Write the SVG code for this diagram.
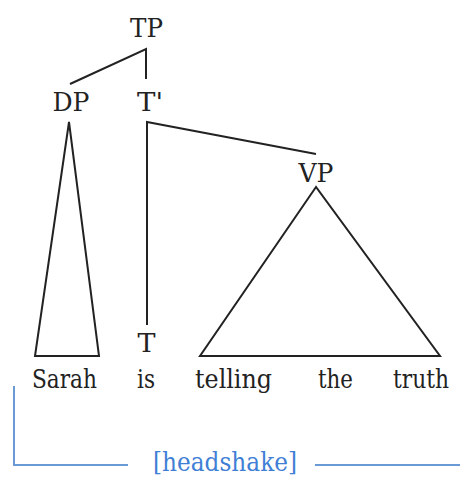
<svg xmlns="http://www.w3.org/2000/svg" width="460" height="477" viewBox="0 0 460 477">
<style>
.t{font-size:26px;fill:#222}
.c{text-anchor:middle}
.r{text-anchor:end}
.e{fill:none;stroke:#222;stroke-width:2;stroke-linejoin:miter}
.b{fill:none;stroke:#6a9ad6;stroke-width:2}
.h{fill:#3f7fd6}
</style>
<rect width="460" height="477" fill="#fff"/>
<g id="connectors">
<polyline class="e" points="70,84 146,49 146,79"/>
<polyline class="e" points="316,154 147,122 147,325"/>
<polygon class="e" points="69,122 35,356 99,356"/>
<polygon class="e" points="316,187 200,356 440,356"/>
</g>
<g font-family="'DejaVu Serif', serif" class="t">
<g id="TP"><text class="c" x="146.5" y="37" textLength="33" lengthAdjust="spacingAndGlyphs">TP</text></g>
<g id="DP"><text class="c" x="71" y="111" textLength="37" lengthAdjust="spacingAndGlyphs">DP</text></g>
<g id="Tbar"><text x="137" y="111" textLength="26" lengthAdjust="spacingAndGlyphs">T'</text></g>
<g id="VP"><text class="c" x="316" y="182" textLength="35" lengthAdjust="spacingAndGlyphs">VP</text></g>
<g id="T"><text class="c" x="146.5" y="352" textLength="18" lengthAdjust="spacingAndGlyphs">T</text></g>
<g id="words">
<text x="32" y="388" textLength="65" lengthAdjust="spacingAndGlyphs">Sarah</text>
<text x="137" y="388" textLength="18" lengthAdjust="spacingAndGlyphs">is</text>
<text x="195" y="388" textLength="77" lengthAdjust="spacingAndGlyphs">telling</text>
<text x="318" y="388" textLength="35" lengthAdjust="spacingAndGlyphs">the</text>
<text class="r" x="449" y="388" textLength="56" lengthAdjust="spacingAndGlyphs">truth</text>
</g>
<g id="headshake">
<polyline class="b" points="14,386 14,465 128,465"/>
<line class="b" x1="315" y1="465" x2="460" y2="465"/>
<text class="h" x="153" y="471" textLength="144" lengthAdjust="spacingAndGlyphs">[headshake]</text>
</g>
</g>
</svg>
